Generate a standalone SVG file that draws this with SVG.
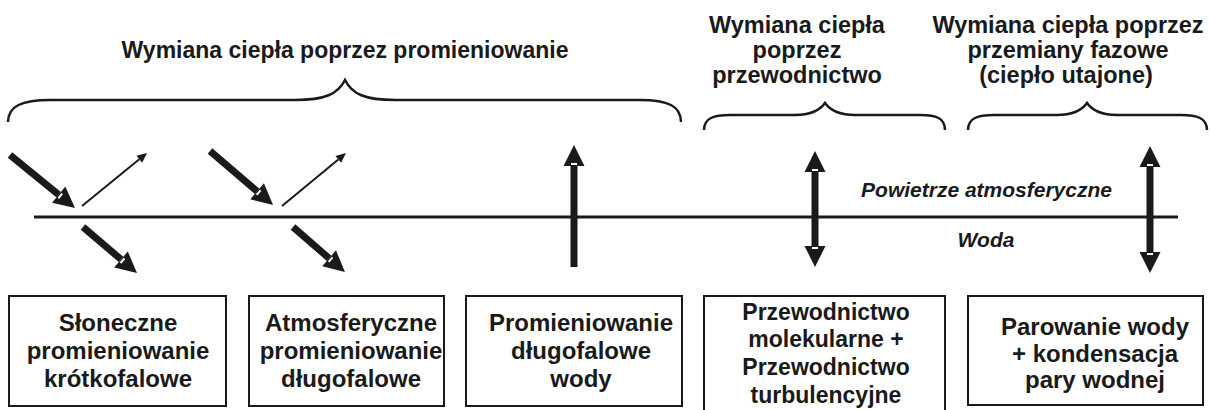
<svg xmlns="http://www.w3.org/2000/svg" width="1210" height="410" viewBox="0 0 1210 410">
<style>
text{font-family:"Liberation Sans",Arial,sans-serif;font-weight:bold;fill:#1a1a1a;text-anchor:middle}
.t1{font-size:23px}
.t{font-size:23.5px}
.b4{font-size:23px}
.bx{font-size:24px}
.lb{font-size:21px;font-style:italic}
.box{fill:#fff;stroke:#1a1a1a;stroke-width:2}
.brace{fill:none;stroke:#1a1a1a;stroke-width:2.5}
.big{stroke:#1a1a1a;stroke-width:7;fill:none}
.thin{stroke:#1a1a1a;stroke-width:2;fill:none}
</style>
<defs>
<marker id="hb" markerUnits="userSpaceOnUse" markerWidth="24" markerHeight="24" viewBox="0 -12 24 24" refX="0" refY="0" orient="auto-start-reverse" overflow="visible">
<path d="M0,-10.5 L21,0 L0,10.5 z" fill="#1a1a1a"/>
<rect x="1" y="-3" width="2" height="6" fill="#fff"/>
</marker>
<marker id="ht" markerUnits="userSpaceOnUse" markerWidth="12" markerHeight="12" viewBox="0 -6 12 12" refX="0" refY="0" orient="auto" overflow="visible">
<path d="M0,-4.5 L10,0 L0,4.5 z" fill="#1a1a1a"/>
</marker>
</defs>
<rect width="1210" height="410" fill="#fff"/>

<g id="title-radiation">
<text class="t1" x="345" y="58">Wymiana ciepła poprzez promieniowanie</text>
<path class="brace" d="M8,122 C8,106 22,100 50,100 L295,100 C325,100 338,94 345,80 C352,94 365,100 395,100 L640,100 C668,100 681,106 681,122"/>
</g>
<g id="title-conduction">
<text class="t" x="797" y="33">Wymiana ciepła</text>
<text class="t" x="797" y="58">poprzez</text>
<text class="t" x="797" y="83">przewodnictwo</text>
<path class="brace" d="M704,130 C704,118 714,115 730,115 L795,115 C812,115 820,110 825,103 C830,110 838,115 855,115 L920,115 C936,115 945,118 945,130"/>
</g>
<g id="title-phase">
<text class="t" x="1068" y="33">Wymiana ciepła poprzez</text>
<text class="t" x="1068" y="58">przemiany fazowe</text>
<text class="t" x="1066" y="83">(ciepło utajone)</text>
<path class="brace" d="M968,130 C968,118 978,115 994,115 L1057,115 C1074,115 1082,110 1087,103 C1092,110 1100,115 1117,115 L1181,115 C1197,115 1207,118 1207,130"/>
</g>

<g id="surface">
<line x1="34" y1="217" x2="1178" y2="217" stroke="#1a1a1a" stroke-width="3"/>
<text class="lb" x="1112" y="197" style="text-anchor:end">Powietrze atmosferyczne</text>
<text class="lb" x="986" y="247">Woda</text>
</g>

<g id="connectors">
<line class="big" x1="10" y1="155" x2="58.7" y2="194.7" marker-end="url(#hb)"/>
<line class="thin" x1="82" y1="206" x2="139.3" y2="159.3" marker-end="url(#ht)"/>
<line class="big" x1="83" y1="227" x2="121" y2="259.4" marker-end="url(#hb)"/>
<line class="big" x1="210" y1="151" x2="257.1" y2="191.3" marker-end="url(#hb)"/>
<line class="thin" x1="282" y1="206" x2="338.3" y2="159.4" marker-end="url(#ht)"/>
<line class="big" x1="293" y1="227" x2="329.1" y2="258.3" marker-end="url(#hb)"/>
<line class="big" x1="574" y1="267" x2="574" y2="166" marker-end="url(#hb)"/>
<line class="big" x1="815" y1="172" x2="815" y2="246" marker-start="url(#hb)" marker-end="url(#hb)"/>
<line class="big" x1="1150" y1="167" x2="1150" y2="252" marker-start="url(#hb)" marker-end="url(#hb)"/>
</g>

<g id="box-solar">
<rect class="box" x="9" y="296" width="217" height="110"/>
<text class="bx" x="118" y="331">Słoneczne</text>
<text class="bx" x="118" y="359">promieniowanie</text>
<text class="bx" x="118" y="387">krótkofalowe</text>
</g>
<g id="box-atmos">
<rect class="box" x="249" y="296" width="195" height="110"/>
<text class="bx" x="351" y="331">Atmosferyczne</text>
<text class="bx" x="351" y="359">promieniowanie</text>
<text class="bx" x="351" y="387">długofalowe</text>
</g>
<g id="box-water">
<rect class="box" x="466" y="296" width="216" height="110"/>
<text class="bx" x="581" y="331">Promieniowanie</text>
<text class="bx" x="581" y="359">długofalowe</text>
<text class="bx" x="581" y="387">wody</text>
</g>
<g id="box-conduction">
<rect class="box" x="704" y="296" width="241" height="125"/>
<text class="b4" x="826" y="320">Przewodnictwo</text>
<text class="b4" x="826" y="347">molekularne +</text>
<text class="b4" x="826" y="375">Przewodnictwo</text>
<text class="b4" x="826" y="403">turbulencyjne</text>
</g>
<g id="box-evap">
<rect class="box" x="968" y="296" width="235" height="109"/>
<text class="bx" x="1095" y="335">Parowanie wody</text>
<text class="bx" x="1095" y="362">+ kondensacja</text>
<text class="bx" x="1095" y="388">pary wodnej</text>
</g>
</svg>
